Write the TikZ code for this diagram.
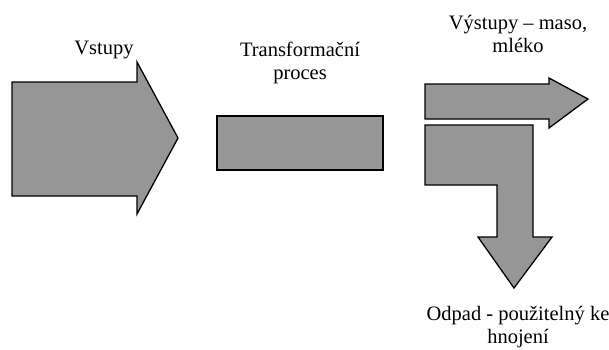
\documentclass[tikz,border=0pt]{standalone}
\usepackage{fontspec}
\setmainfont{Liberation Serif}
\definecolor{shapegray}{RGB}{150,150,150}
\begin{document}
\begin{tikzpicture}[x=1pt,y=-1pt,
  shp/.style={draw=black,fill=shapegray,line width=1.3pt,line join=miter},
  lbl/.style={align=center,font=\fontsize{20.5}{23.5}\selectfont,inner sep=0pt}]
\useasboundingbox (0,0) rectangle (609,349);
% big input arrow
\draw[shp] (12,82) -- (137,82) -- (137,62) -- (178,138) -- (137,214) -- (137,196) -- (12,196) -- cycle;
\node[shp,minimum width=166pt,minimum height=54pt,inner sep=0pt] (proc) at (300,143) {};
% output arrow
\draw[shp] (425,84) -- (549,84) -- (549,78) -- (588,99) -- (549,128) -- (549,119) -- (425,119) -- cycle;
% waste L-arrow
\draw[shp] (425,125) -- (533,125) -- (533,237) -- (552,237) -- (514,288) -- (478,237) -- (497,237) -- (497,185) -- (425,185) -- cycle;
% labels
\node[lbl] (vin) at (104,50) {Vstupy};
\node[lbl] (tp) at (300,63) {Transformační\\proces};
\node[lbl] (vout) at (518,34) {Výstupy – maso,\\mléko};
\node[lbl] (odp) at (518,327) {Odpad - použitelný ke\\hnojení};
\end{tikzpicture}
\end{document}
